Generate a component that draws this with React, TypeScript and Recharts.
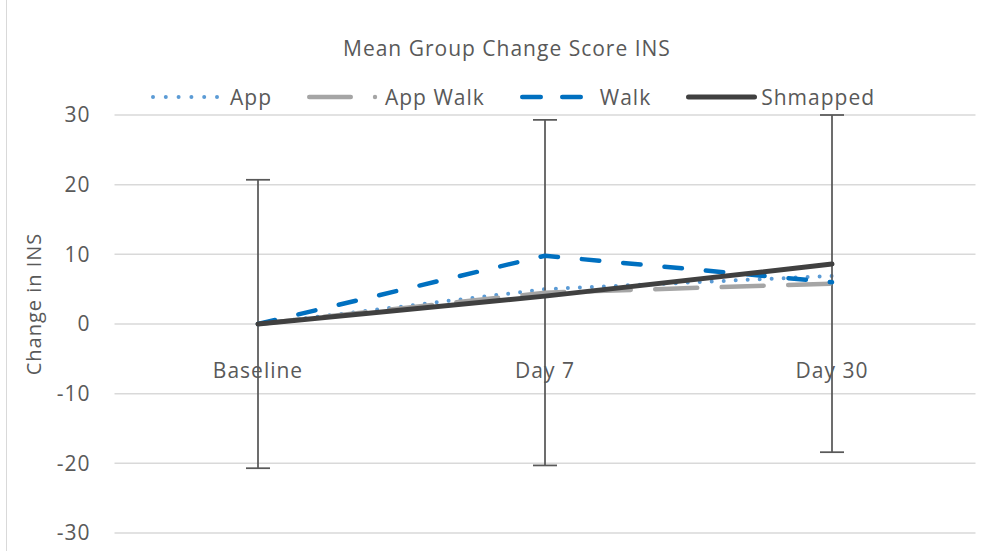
import { LineChart, Line, XAxis, YAxis, CartesianGrid, ErrorBar, Legend } from "recharts";

const categories = ["Baseline", "Day 7", "Day 30"];
const app = [0, 5.0, 6.9];
const appWalk = [0, 4.5, 5.8];
const walk = [0, 9.8, 6.0];
const shmapped = [0, 4.0, 8.6];
const appWalkErr = [20.7, 24.8, 24.2];
const yTicks = [-30, -20, -10, 0, 10, 20, 30];

const FONT = "'Open Sans', sans-serif";
const INK = "#595959";

const data = categories.map((name, i) => ({
  name,
  app: app[i],
  appWalk: appWalk[i],
  walk: walk[i],
  shmapped: shmapped[i],
  err: appWalkErr[i],
}));

const legendItems = [
  { label: "App", kind: "app", ml: 5 },
  { label: "App Walk", kind: "appWalk", ml: 6 },
  { label: "Walk", kind: "walk", ml: 8 },
  { label: "Shmapped", kind: "shmapped", ml: 3 },
];

function Swatch({ kind }: { kind: string }) {
  return (
    <svg width={74} height={12} style={{ display: "block" }}>
      {kind === "app" && (
        <line x1={2} x2={66.01} y1={6} y2={6} stroke="#5B9BD5" strokeWidth={4} strokeLinecap="round" strokeDasharray="0 12.8" />
      )}
      {kind === "appWalk" && (
        <g>
          <line x1={4.25} x2={45.75} y1={6} y2={6} stroke="#A5A5A5" strokeWidth={4.5} strokeLinecap="round" />
          <circle cx={70} cy={6} r={2.2} fill="#A5A5A5" />
        </g>
      )}
      {kind === "walk" && (
        <line x1={4.25} x2={70} y1={6} y2={6} stroke="#0070C0" strokeWidth={4.5} strokeLinecap="round" strokeDasharray="18.5 21.5" />
      )}
      {kind === "shmapped" && (
        <line x1={4.5} x2={70.5} y1={6} y2={6} stroke="#404040" strokeWidth={5} strokeLinecap="round" />
      )}
    </svg>
  );
}

function LegendContent() {
  return (
    <div style={{ display: "flex", alignItems: "center", gap: 33, fontFamily: FONT, fontSize: 21, letterSpacing: 1, color: INK, whiteSpace: "nowrap" }}>
      {legendItems.map((it) => (
        <div key={it.label} style={{ display: "flex", alignItems: "center" }}>
          <Swatch kind={it.kind} />
          <span style={{ marginLeft: it.ml, lineHeight: "26px" }}>{it.label}</span>
        </div>
      ))}
    </div>
  );
}

// x labels sit just under the zero line, as Excel does
const renderXTick = (props: any) => {
  const { x, y, payload } = props;
  return (
    <text x={x} y={y - 155} textAnchor="middle" fill={INK} fontFamily={FONT} fontSize={21} letterSpacing={1}>
      {payload.value}
    </text>
  );
};

export default function App() {
  return (
    <div style={{ position: "absolute", left: 0, top: 0, width: 1001, height: 551, background: "#fff", overflow: "hidden" }}>
      <div style={{ position: "absolute", left: 6, top: 0, width: 1, height: 551, background: "#d9d9d9" }} />
      <div
        style={{
          position: "absolute",
          left: 343,
          top: 38,
          fontFamily: FONT,
          fontSize: 21,
          letterSpacing: 1,
          lineHeight: "21px",
          color: INK,
          whiteSpace: "nowrap",
          zIndex: 2,
        }}
      >
        Mean Group Change Score INS
      </div>
      <LineChart width={1001} height={551} data={data} margin={{ top: 115, right: 25.5, bottom: 0, left: 0 }}>
        <CartesianGrid vertical={false} stroke="#d9d9d9" strokeWidth={1.5} />
        <XAxis
          dataKey="name"
          axisLine={false}
          tickLine={false}
          tickSize={0}
          tickMargin={0}
          padding={{ left: 143.5, right: 143.5 }}
          tick={renderXTick}
          height={18}
          interval={0}
        />
        <YAxis
          domain={[-30, 30]}
          ticks={yTicks}
          width={114.5}
          axisLine={false}
          tickLine={false}
          tickSize={0}
          tickMargin={24}
          tick={{ fill: INK, fontFamily: FONT, fontSize: 21, letterSpacing: 1 }}
          label={() => {
            const cx = 33;
            const cy = 304;
            return (
              <text
                x={cx}
                y={cy}
                transform={`rotate(-90 ${cx} ${cy})`}
                textAnchor="middle"
                dominantBaseline="central"
                fill={INK}
                fontFamily={FONT}
                fontSize={20}
                letterSpacing={1}
              >
                Change in INS
              </text>
            );
          }}
        />
        <Legend
          layout="horizontal"
          align="center"
          verticalAlign="middle"
          wrapperStyle={{ left: 151, top: 84, width: "auto" }}
          content={<LegendContent />}
        />
        <Line
          dataKey="app"
          stroke="#5B9BD5"
          strokeWidth={4}
          strokeLinecap="round"
          strokeDasharray="0 12"
          dot={false}
          activeDot={false}
          isAnimationActive={false}
        />
        <Line
          dataKey="appWalk"
          stroke="#A5A5A5"
          strokeWidth={4.5}
          strokeLinecap="round"
          strokeDasharray="42 24.5"
          dot={false}
          activeDot={false}
          isAnimationActive={false}
        >
          <ErrorBar dataKey="err" width={12} stroke="#595959" strokeWidth={1.75} direction="y" />
        </Line>
        <Line
          dataKey="walk"
          stroke="#0070C0"
          strokeWidth={4.5}
          strokeLinecap="round"
          strokeDasharray="17.5 24"
          dot={false}
          activeDot={false}
          isAnimationActive={false}
        />
        <Line
          dataKey="shmapped"
          stroke="#404040"
          strokeWidth={5}
          strokeLinecap="round"
          dot={false}
          activeDot={false}
          isAnimationActive={false}
        />
      </LineChart>
    </div>
  );
}
